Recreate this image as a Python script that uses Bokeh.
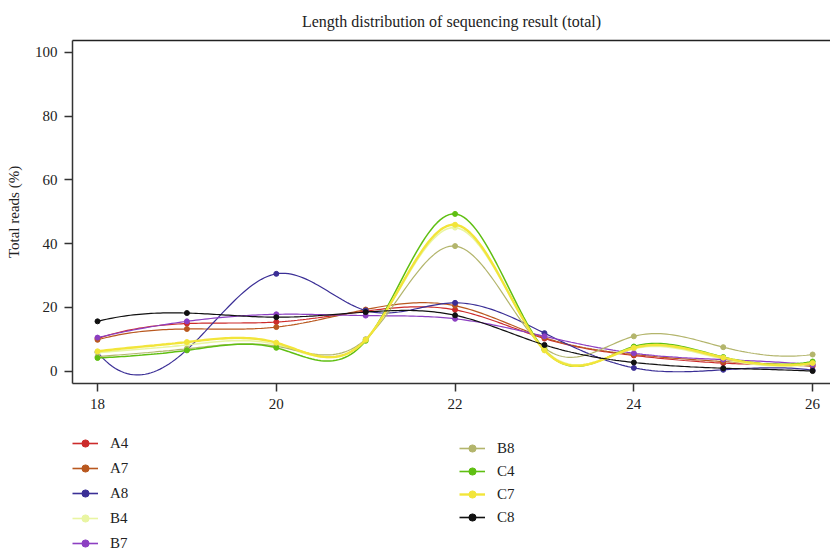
import numpy as np
from bokeh.plotting import figure
from bokeh.layouts import column
from bokeh.models import Legend, LegendItem, LinearAxis, FixedTicker, Range1d
from bokeh.embed import file_html
from bokeh.resources import INLINE

lengths = [18, 19, 20, 21, 22, 23, 24, 25, 26]
A4 = [10.2, 14.9, 15.4, 18.8, 19.2, 10.2, 4.9, 2.5, 2.0]
A7 = [9.8, 13.2, 13.8, 19.3, 20.5, 10.5, 5.2, 3.0, 1.5]
A8 = [5.9, 6.7, 30.5, 19.0, 21.4, 11.9, 1.0, 0.4, 0.3]
B4 = [5.8, 8.2, 8.3, 9.8, 45.0, 6.8, 7.0, 3.8, 2.2]
B7 = [10.5, 15.6, 17.8, 17.4, 16.4, 10.9, 5.6, 3.6, 2.0]
B8 = [4.5, 7.0, 7.8, 10.0, 39.2, 7.3, 10.9, 7.5, 5.2]
C4 = [4.1, 6.5, 7.3, 9.5, 49.3, 6.7, 7.7, 4.4, 3.0]
C7 = [6.2, 9.1, 8.9, 9.8, 45.9, 6.5, 7.3, 4.2, 2.5]
C8 = [15.6, 18.2, 16.9, 18.5, 17.5, 8.2, 2.7, 0.9, 0.0]

series = [
    ("A4", A4, "#cc2b2b", 1.2),
    ("A7", A7, "#b9581f", 1.2),
    ("A8", A8, "#3b2f96", 1.2),
    ("B4", B4, "#e9f5a2", 1.6),
    ("B7", B7, "#8c3fc2", 1.2),
    ("B8", B8, "#b3b56c", 1.2),
    ("C4", C4, "#5fbf12", 1.5),
    ("C7", C7, "#f2e53a", 2.4),
    ("C8", C8, "#111111", 1.2),
]

FONT = "Liberation Serif"


def third_dd(x, y):
    d1 = [(y[i + 1] - y[i]) / (x[i + 1] - x[i]) for i in range(3)]
    d2 = [(d1[i + 1] - d1[i]) / (x[i + 2] - x[i]) for i in range(2)]
    return (d2[1] - d2[0]) / (x[3] - x[0])


def fmm_spline(x, y, per=30):
    # cubic spline with Forsythe-Malcolm-Moler end conditions (as R's spline())
    x = np.asarray(x, float)
    y = np.asarray(y, float)
    n = len(x)
    h = np.diff(x)
    A = np.zeros((n, n))
    r = np.zeros(n)
    A[0, 0] = -1 / h[0]
    A[0, 1] = 1 / h[0]
    r[0] = 6 * third_dd(x[:4], y[:4])
    A[-1, -2] = -1 / h[-1]
    A[-1, -1] = 1 / h[-1]
    r[-1] = 6 * third_dd(x[-4:], y[-4:])
    for i in range(1, n - 1):
        A[i, i - 1] = h[i - 1]
        A[i, i] = 2 * (h[i - 1] + h[i])
        A[i, i + 1] = h[i]
        r[i] = 6 * ((y[i + 1] - y[i]) / h[i] - (y[i] - y[i - 1]) / h[i - 1])
    M = np.linalg.solve(A, r)
    xs, ys = [], []
    for i in range(n - 1):
        t = np.linspace(x[i], x[i + 1], per, endpoint=(i == n - 2))
        a = (x[i + 1] - t) / h[i]
        b = (t - x[i]) / h[i]
        s = (a * y[i] + b * y[i + 1]
             + ((a ** 3 - a) * M[i] + (b ** 3 - b) * M[i + 1]) * h[i] ** 2 / 6)
        xs.extend(t)
        ys.extend(s)
    return xs, ys


p = figure(width=830, height=415, output_backend="svg", toolbar_location=None,
           x_range=Range1d(17.72, 26.2), y_range=Range1d(-3.9, 103.7),
           min_border_left=72, min_border_right=0, min_border_top=40,
           min_border_bottom=32,
           title="Length distribution of sequencing result (total)")
p.outline_line_color = None
p.grid.grid_line_color = None
p.title.align = "center"
p.title.text_font = FONT
p.title.text_font_size = "16px"
p.title.text_font_style = "normal"
p.title.text_color = "#222222"
p.title.standoff = 21

p.xaxis.ticker = FixedTicker(ticks=[18, 20, 22, 24, 26])
p.yaxis.ticker = FixedTicker(ticks=[0, 20, 40, 60, 80, 100])
for ax in (p.xaxis[0], p.yaxis[0]):
    ax.axis_line_color = "#333333"
    ax.axis_line_width = 1.5
    ax.major_tick_line_color = "#333333"
    ax.major_tick_line_width = 1.5
    ax.major_tick_in = 0
    ax.major_tick_out = 8
    ax.minor_tick_line_color = None
    ax.major_label_text_font = FONT
    ax.major_label_text_font_size = "15px"
    ax.major_label_text_color = "#222222"
p.xaxis.major_label_standoff = 7
p.yaxis.major_label_standoff = 7
p.yaxis.axis_label = "Total reads (%)"
p.yaxis.axis_label_text_font = FONT
p.yaxis.axis_label_text_font_size = "15px"
p.yaxis.axis_label_text_font_style = "normal"
p.yaxis.axis_label_text_color = "#222222"
p.yaxis.axis_label_standoff = 10

top = LinearAxis(ticker=FixedTicker(ticks=[]), axis_line_color="#222222",
                 axis_line_width=1.5, major_tick_out=0, major_tick_in=0,
                 minor_tick_out=0, minor_tick_in=0)
p.add_layout(top, "above")

# legend panel below the plot (its ranges keep the data out of view)
q = figure(width=830, height=137, output_backend="svg", toolbar_location=None,
           x_range=Range1d(1000, 1100), y_range=Range1d(1000, 1100),
           min_border_left=72, min_border_right=0, min_border_top=0,
           min_border_bottom=0)
q.axis.visible = False
q.grid.grid_line_color = None
q.outline_line_color = None

items = {}
for name, vals, color, lw in series:
    xs, ys = fmm_spline(lengths, vals)
    p.line(xs, ys, line_color=color, line_width=lw)
    p.scatter(lengths, vals, size=5, fill_color=color, line_color=color)
    ln = q.line(lengths, vals, line_color=color, line_width=max(lw, 1.6))
    sc = q.scatter(lengths, vals, size=6.5, fill_color=color, line_color=color)
    items[name] = LegendItem(label=name, renderers=[ln, sc])

leg_kw = dict(orientation="vertical", padding=0, margin=0, border_line_color=None,
              background_fill_alpha=0, glyph_width=26, glyph_height=18,
              label_height=18, label_standoff=12,
              label_text_font=FONT, label_text_font_size="15px",
              label_text_color="#222222")
leg1 = Legend(items=[items[k] for k in ["A4", "A7", "A8", "B4", "B7"]],
              location=(0, 0), spacing=7, **leg_kw)
leg2 = Legend(items=[items[k] for k in ["B8", "C4", "C7", "C8"]],
              location=(387, 26), spacing=5, **leg_kw)
q.add_layout(leg1)
q.add_layout(leg2)

layout = column(p, q, spacing=0)
open("out.html", "w").write(file_html(layout, INLINE))
